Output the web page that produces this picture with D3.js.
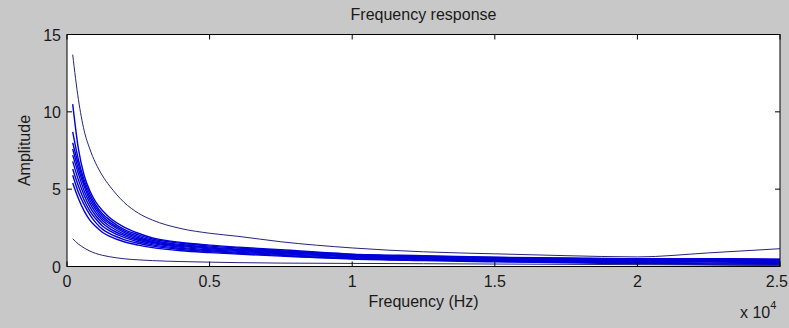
<!DOCTYPE html>
<html>
<head>
<meta charset="utf-8">
<script src="https://cdn.jsdelivr.net/npm/d3@7"></script>
<style>
  body { margin: 0; background: #c8c8c8; }
  text { font-family: "Liberation Sans", Arial, sans-serif; fill: #1a1a1a; }
</style>
</head>
<body>
<div id="chart"></div>
<script>
let freqs = [200, 400, 600, 800, 1000, 1250, 1500, 2000, 2500, 3000, 4000, 5000, 6000, 7500, 10000, 12500, 15000, 17500, 20000, 22500, 25000];

// the two curves that stand apart from the bundle
let topCurve    = [13.7, 10.8, 8.8, 7.6, 6.7, 5.85, 5.2, 4.15, 3.45, 3.0, 2.45, 2.15, 1.95, 1.6, 1.2, 0.95, 0.82, 0.7, 0.62, 0.88, 1.15];
let bottomCurve = [1.8, 1.45, 1.2, 1.0, 0.85, 0.72, 0.63, 0.5, 0.43, 0.38, 0.32, 0.28, 0.25, 0.22, 0.2, 0.18, 0.16, 0.14, 0.12, 0.1, 0.08];

// the bundle of curves in the middle
let bandB = [10.5, 7.6, 5.9, 4.9, 4.2, 3.6, 3.15, 2.55, 2.15, 1.85, 1.55, 1.38, 1.25, 1.08, 0.8, 0.7, 0.6, 0.55, 0.5, 0.5, 0.48];
let bandC = [8.7, 6.9, 5.6, 4.7, 4.0, 3.4, 3.0, 2.4, 2.05, 1.78, 1.5, 1.32, 1.2, 1.02, 0.78, 0.66, 0.58, 0.52, 0.47, 0.46, 0.45];
let bandD = [8.0, 6.6, 5.4, 4.5, 3.85, 3.25, 2.85, 2.3, 1.95, 1.7, 1.42, 1.25, 1.13, 0.97, 0.74, 0.62, 0.54, 0.48, 0.43, 0.42, 0.42];
let bandE = [7.6, 6.3, 5.2, 4.3, 3.7, 3.1, 2.75, 2.2, 1.86, 1.62, 1.36, 1.2, 1.08, 0.92, 0.7, 0.58, 0.5, 0.44, 0.4, 0.38, 0.37];
let bandF = [7.2, 6.0, 4.9, 4.1, 3.5, 2.95, 2.6, 2.1, 1.78, 1.55, 1.3, 1.14, 1.03, 0.88, 0.66, 0.54, 0.46, 0.4, 0.36, 0.33, 0.32];
let bandG = [6.8, 5.6, 4.6, 3.85, 3.3, 2.8, 2.45, 2.0, 1.7, 1.48, 1.24, 1.08, 0.98, 0.83, 0.62, 0.5, 0.42, 0.36, 0.31, 0.28, 0.26];
let bandH = [6.3, 5.2, 4.3, 3.6, 3.1, 2.6, 2.3, 1.88, 1.6, 1.4, 1.17, 1.02, 0.92, 0.78, 0.57, 0.46, 0.38, 0.32, 0.26, 0.22, 0.2];
let bandI = [5.9, 4.8, 4.0, 3.35, 2.85, 2.4, 2.12, 1.74, 1.5, 1.32, 1.1, 0.96, 0.86, 0.72, 0.52, 0.42, 0.34, 0.28, 0.22, 0.17, 0.14];
let bandJ = [5.4, 4.4, 3.6, 3.0, 2.6, 2.2, 1.95, 1.6, 1.38, 1.22, 1.02, 0.9, 0.8, 0.67, 0.48, 0.38, 0.3, 0.24, 0.18, 0.12, 0.09];

let xTicks = [0, 5000, 10000, 15000, 20000, 25000];
let xTickLabels = ["0", "0.5", "1", "1.5", "2", "2.5"];
let yTicks = [0, 5, 10, 15];

let bandCurves = [bandB, bandC, bandD, bandE, bandF, bandG, bandH, bandI, bandJ];
let loneCurves = [topCurve, bottomCurve];

let width = 789, height = 328;
// plot box edges in pixels ("top" is taken by window.top, so use a prefix)
let boxL = 67, boxR = 780, boxT = 34.5, boxB = 266.5;

let svg = d3.select("#chart").append("svg")
	.attr("width", width)
	.attr("height", height);

svg.append("rect")
	.attr("width", width).attr("height", height)
	.attr("fill", "#c8c8c8");

let x = d3.scaleLinear().domain([0, 25000]).range([boxL, boxR]);
let y = d3.scaleLinear().domain([0, 15]).range([boxB, boxT]);

// white plot area
svg.append("rect")
	.attr("x", boxL).attr("y", boxT)
	.attr("width", boxR - boxL).attr("height", boxB - boxT)
	.attr("fill", "#fff");

let line = d3.line()
	.x((d, i) => x(freqs[i]))
	.y(d => y(d))
	.curve(d3.curveMonotoneX);

let plot = svg.append("g");

plot.selectAll("path.band")
	.data(bandCurves)
	.enter()
	.append("path")
	.attr("class", "band")
	.attr("d", line)
	.attr("fill", "none")
	.attr("stroke", "#0000d8")
	.attr("stroke-width", 1.4);

plot.selectAll("path.lone")
	.data(loneCurves)
	.enter()
	.append("path")
	.attr("class", "lone")
	.attr("d", line)
	.attr("fill", "none")
	.attr("stroke", "#24247e")
	.attr("stroke-width", 1);

// MATLAB-style axes: ticks pointing inwards on all four sides
let tickLen = 5;
let ax = svg.append("g").attr("stroke", "#000").attr("stroke-width", 1);

ax.selectAll("line.xb").data(xTicks).enter().append("line")
	.attr("x1", d => x(d)).attr("x2", d => x(d))
	.attr("y1", boxB).attr("y2", boxB - tickLen);
ax.selectAll("line.xt").data(xTicks).enter().append("line")
	.attr("x1", d => x(d)).attr("x2", d => x(d))
	.attr("y1", boxT).attr("y2", boxT + tickLen);
ax.selectAll("line.yl").data(yTicks).enter().append("line")
	.attr("x1", boxL).attr("x2", boxL + tickLen)
	.attr("y1", d => y(d)).attr("y2", d => y(d));
ax.selectAll("line.yr").data(yTicks).enter().append("line")
	.attr("x1", boxR).attr("x2", boxR - tickLen)
	.attr("y1", d => y(d)).attr("y2", d => y(d));

svg.append("rect")
	.attr("x", boxL).attr("y", boxT)
	.attr("width", boxR - boxL).attr("height", boxB - boxT)
	.attr("fill", "none")
	.attr("stroke", "#000");

// tick labels (the last one is pulled in so it stays inside the page)
let lastTick = xTicks.length - 1;
svg.selectAll("text.xl").data(xTicks).enter().append("text")
	.attr("x", (d, i) => i == lastTick ? width - 1 : x(d))
	.attr("y", 287)
	.attr("text-anchor", (d, i) => i == lastTick ? "end" : "middle")
	.style("font-size", "16px")
	.text((d, i) => xTickLabels[i]);

svg.selectAll("text.yl").data(yTicks).enter().append("text")
	.attr("x", boxL - 6)
	.attr("y", d => y(d) + 6)
	.attr("text-anchor", "end")
	.style("font-size", "16px")
	.text(d => d);

// exponent label
let expo = svg.append("text")
	.attr("x", 740).attr("y", 318)
	.style("font-size", "16px");
expo.append("tspan").text("x 10");
expo.append("tspan").attr("dy", -9).style("font-size", "11px").text("4");

// titles
svg.append("text")
	.attr("x", (boxL + boxR) / 2).attr("y", 19.5)
	.attr("text-anchor", "middle")
	.style("font-size", "16px")
	.text("Frequency response");

svg.append("text")
	.attr("x", (boxL + boxR) / 2).attr("y", 307)
	.attr("text-anchor", "middle")
	.style("font-size", "16px")
	.text("Frequency (Hz)");

svg.append("text")
	.attr("transform", "translate(30," + ((boxT + boxB) / 2) + ") rotate(-90)")
	.attr("text-anchor", "middle")
	.style("font-size", "16px")
	.text("Amplitude");
</script>
</body>
</html>
